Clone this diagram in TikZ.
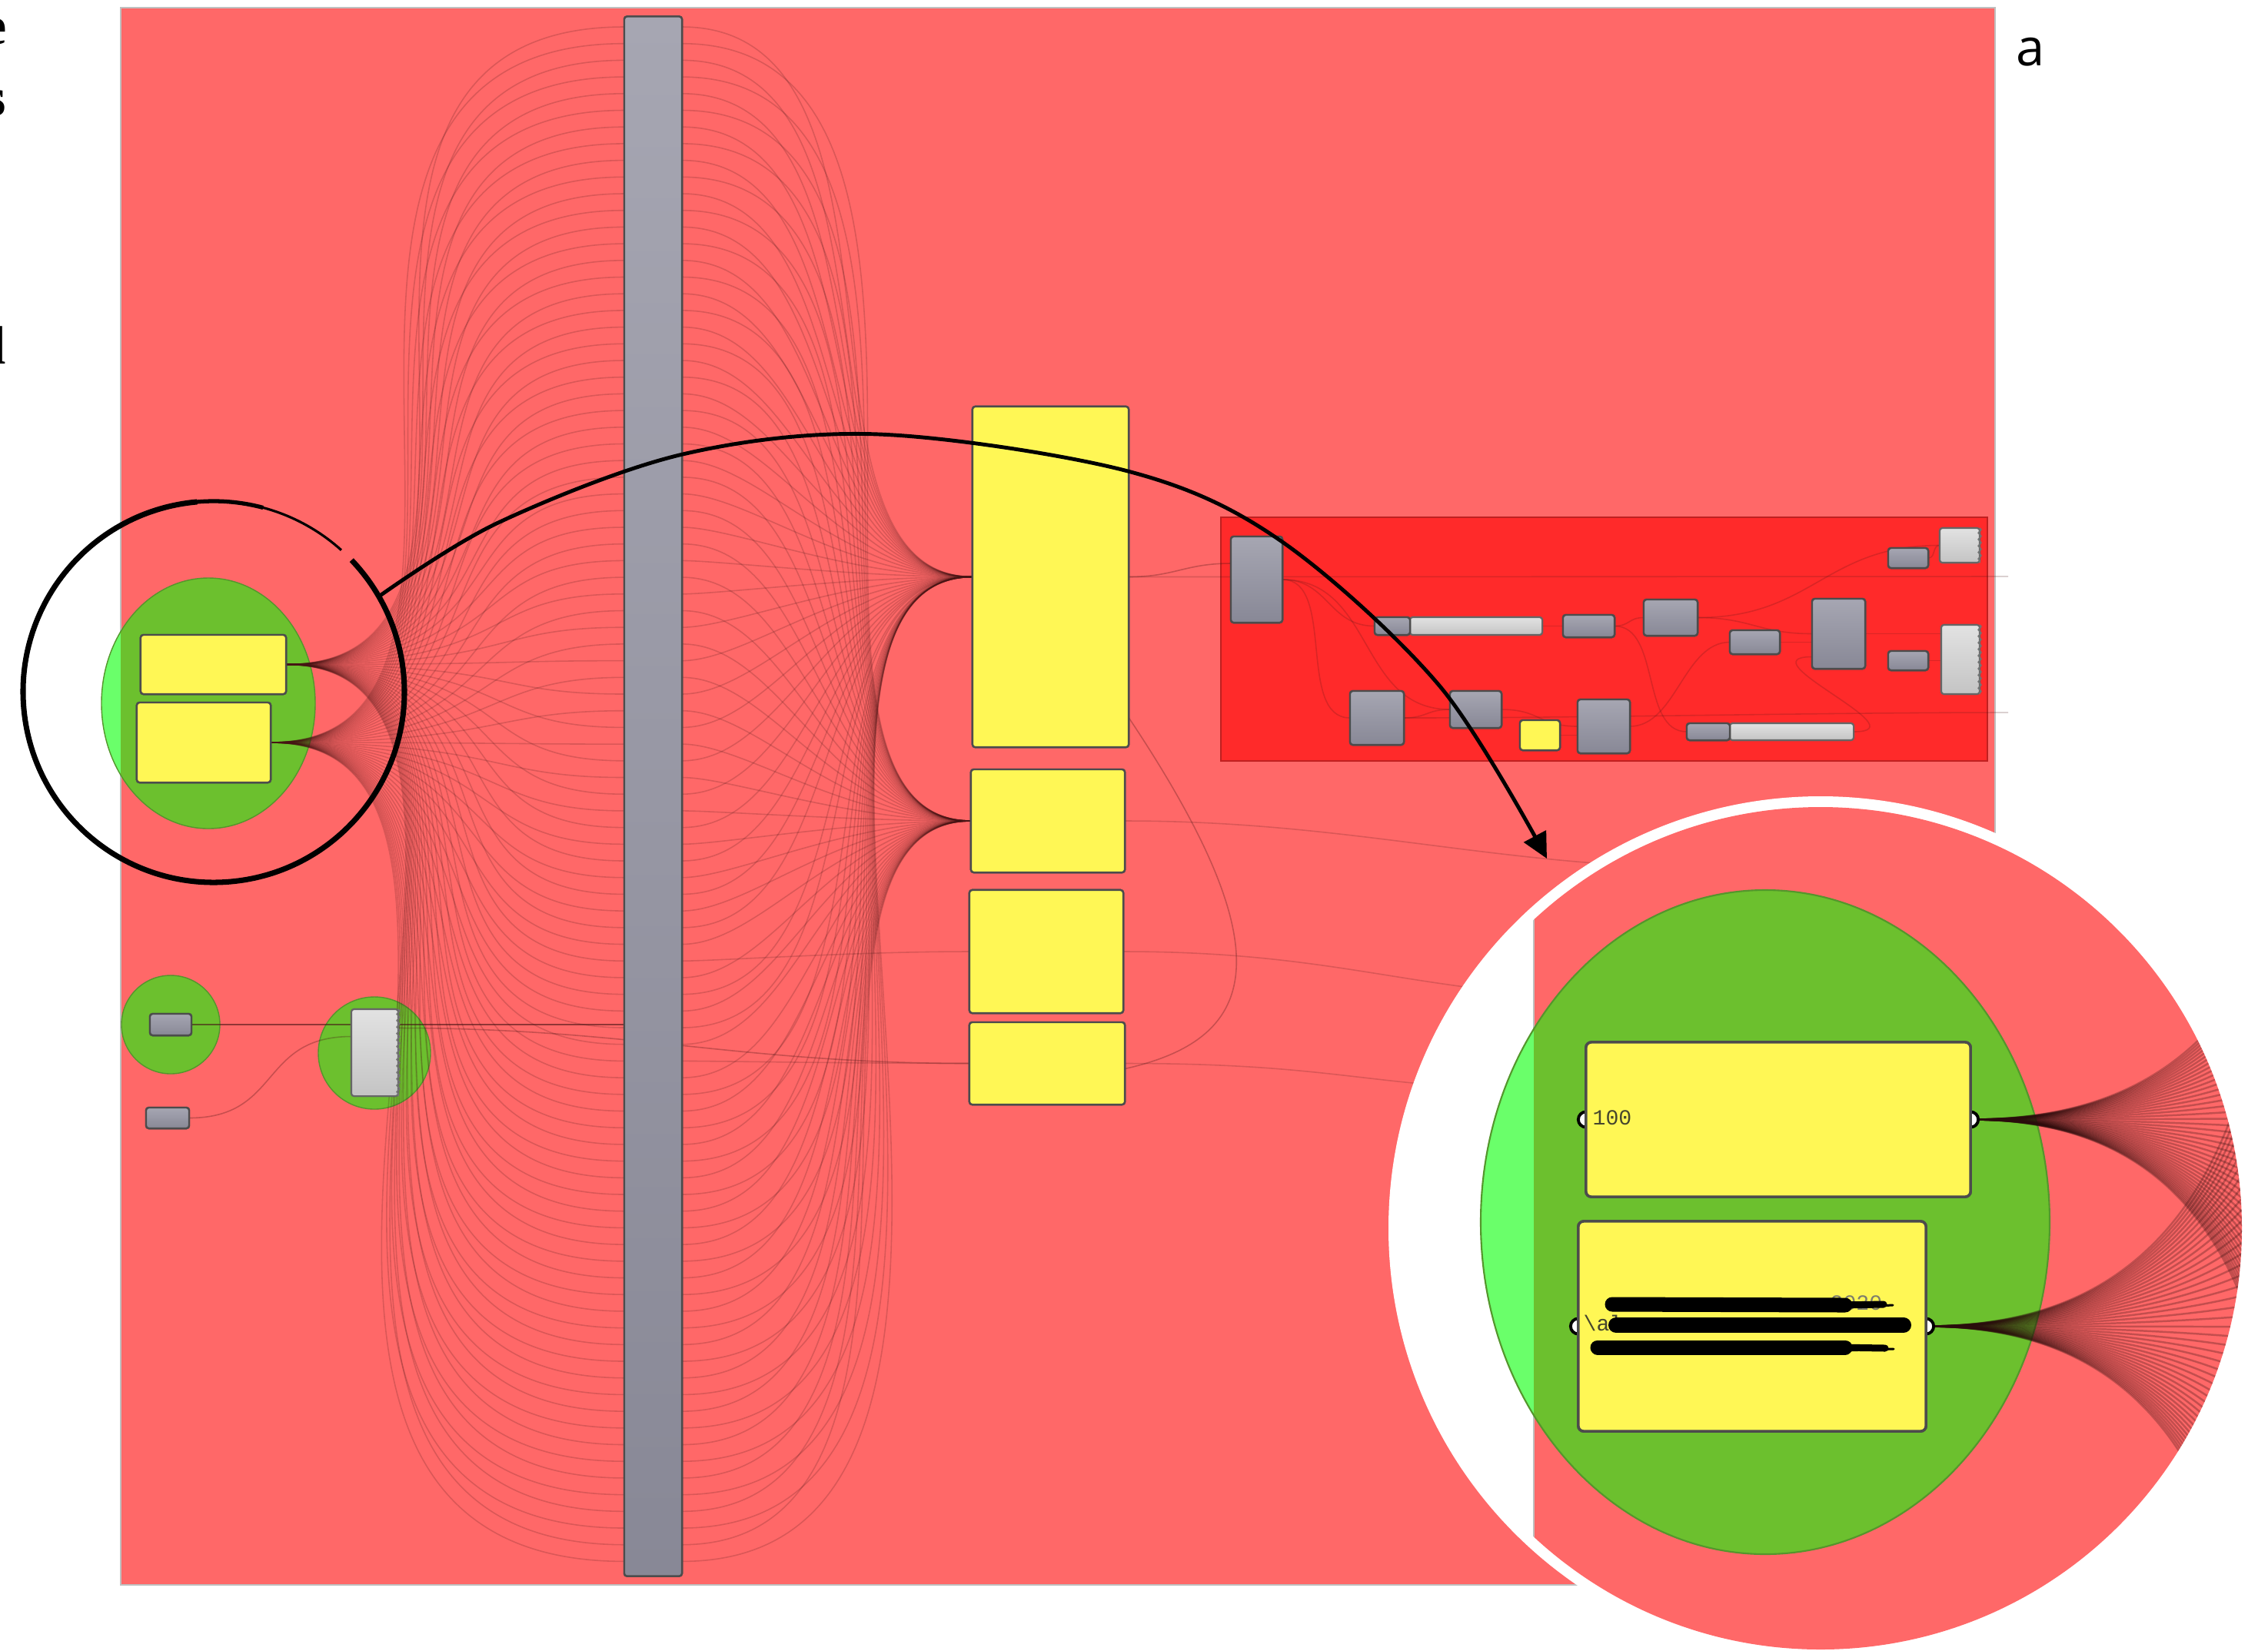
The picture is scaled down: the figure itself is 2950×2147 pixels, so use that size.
\documentclass[tikz,border=0pt]{standalone}
\usepackage{fontspec}
\usepackage{tikz}
\usetikzlibrary{calc,arrows.meta,positioning,decorations.pathmorphing}
\newfontfamily\tagfont{Open Sans}
\newfontfamily\capfont{Liberation Serif}
\newfontfamily\monofont{Liberation Mono}

\definecolor{canvasPink}{RGB}{255,104,104}
\definecolor{groupGreen}{RGB}{108,192,46}
\definecolor{groupGreenLight}{RGB}{106,255,106}
\definecolor{groupGreenEdge}{RGB}{84,150,44}
\definecolor{groupRed}{RGB}{255,42,42}
\definecolor{panelYellow}{RGB}{255,247,85}
\definecolor{compTop}{RGB}{166,166,178}
\definecolor{compBot}{RGB}{136,136,150}
\definecolor{lightTop}{RGB}{226,226,226}
\definecolor{lightBot}{RGB}{196,196,196}
\definecolor{wireDark}{RGB}{70,20,20}
\definecolor{panelText}{RGB}{70,70,45}

\tikzset{
  sz/.style 2 args={minimum width=#1cm, minimum height=#2cm},
  ghcomp/.style={draw=black!70, line width=0.7pt, rounded corners=1pt, top color=compTop, bottom color=compBot, inner sep=0pt, outer sep=0pt},
  ghlight/.style={draw=black!60, line width=0.6pt, rounded corners=1pt, top color=lightTop, bottom color=lightBot, inner sep=0pt, outer sep=0pt},
  ghpanel/.style={draw=black!70, line width=0.7pt, rounded corners=1pt, fill=panelYellow, inner sep=0pt, outer sep=0pt},
  zigedge/.style={draw=black!55, line width=0.5pt, decorate, decoration={zigzag, amplitude=0.5pt, segment length=2.4pt}},
  wire/.style={draw=wireDark, line width=0.45pt, opacity=0.2},
  magwire/.style={draw=wireDark!60!black, line width=0.7pt, opacity=0.28},
  port/.style={draw=black, fill=white, line width=1.1pt},
  greenedge/.style={draw=groupGreenEdge, line width=0.4pt},
  lensline/.style={draw=black, line width=2pt},
  loupe/.style={draw=black, line width=1.4pt},
  scribble/.style={draw=black, line width=#1, line cap=round},
  cutletter/.style={anchor=base east, inner sep=0pt, font=\capfont\bfseries\fontsize{20}{20}\selectfont},
  tagtext/.style={anchor=base west, inner sep=0pt, font=\tagfont\fontsize{19}{19}\selectfont},
  monotext/.style={anchor=base west, inner sep=0pt, text=panelText, font=\monofont\fontsize{8}{8}\selectfont}
}

\begin{document}
\begin{tikzpicture}[x=0.01cm, y=-0.01cm]
  \fill[white] (0,0) rectangle (2950,2147);
  \useasboundingbox (0,0) rectangle (2950,2147);

  % letters cut by the left edge, panel tag
  \node[cutletter] (cute) at (9,57) {e};
  \node[cutletter] (cuts) at (9,150) {s};
  \node[cutletter] (cutl) at (9,473) {l};
  \node[tagtext] (taga) at (2622,85) {a};

  % canvas
  \fill[canvasPink] (157,10) rectangle (2595,2062);
  \draw[black!25, line width=0.6pt] (157,10) rectangle (2595,2062);

  % groups
  \coordinate (grpc) at (271,915);
  \fill[groupGreenLight] (grpc) ellipse[x radius=139, y radius=163];
  \begin{scope}
    \clip (157,10) rectangle (2595,2062);
    \fill[groupGreen] (grpc) ellipse[x radius=139, y radius=163];
  \end{scope}
  \draw[greenedge] (grpc) ellipse[x radius=139, y radius=163];
  \fill[groupGreen] (222,1333) circle[radius=64];
  \draw[greenedge] (222,1333) circle[radius=64];
  \fill[groupGreen] (487,1370) circle[radius=73];
  \draw[greenedge] (487,1370) circle[radius=73];
  \draw[fill=groupRed, draw=groupRed!75!black, line width=0.5pt] (1588,673) rectangle (2585,990);

  % components (nodes first, drawn again on top below)
  \node[ghcomp, sz={0.75}{20.28}] (bar) at (849.5,1036) {};
  \node[ghpanel, sz={1.89}{0.77}] (srcA) at (277.5,864.5) {};
  \node[ghpanel, sz={1.74}{1.04}] (srcB) at (265,966) {};
  \node[ghpanel, sz={2.03}{4.43}] (pnA) at (1366.5,750.5) {};
  \node[ghpanel, sz={2.00}{1.34}] (pnB) at (1363,1068) {};
  \node[ghpanel, sz={2.00}{1.60}] (pnC) at (1361,1238) {};
  \node[ghpanel, sz={2.02}{1.07}] (pnD) at (1362,1383.5) {};
  \node[ghcomp, sz={0.54}{0.28}] (sm1) at (222,1333) {};
  \node[ghcomp, sz={0.56}{0.27}] (sm2) at (218,1454.5) {};
  \node[ghlight, sz={0.61}{1.13}] (tall) at (487.5,1369.5) {};

  \node[ghcomp, sz={0.67}{1.12}] (rg1) at (1634.5,754) {};
  \node[ghlight, sz={1.72}{0.23}] (rg2t) at (1920,814.5) {};
  \node[ghcomp, sz={0.46}{0.23}] (rg2) at (1811,814.5) {};
  \node[ghcomp, sz={0.67}{0.29}] (rg3) at (2066.5,814.5) {};
  \node[ghcomp, sz={0.70}{0.47}] (rg4) at (2173,803.5) {};
  \node[ghcomp, sz={0.65}{0.31}] (rg5) at (2282.5,835.5) {};
  \node[ghcomp, sz={0.69}{0.91}] (rg6) at (2391.5,824.5) {};
  \node[ghcomp, sz={0.52}{0.26}] (rg7) at (2482,726) {};
  \node[ghlight, sz={0.52}{0.45}] (rg8) at (2549,709.5) {};
  \node[ghcomp, sz={0.52}{0.25}] (rg9) at (2482,859.5) {};
  \node[ghlight, sz={0.50}{0.90}] (rg10) at (2550,858) {};
  \node[ghcomp, sz={0.70}{0.70}] (rg11) at (1791,934) {};
  \node[ghcomp, sz={0.67}{0.48}] (rg12) at (1919.5,923) {};
  \node[ghpanel, sz={0.52}{0.39}] (rg13) at (2003,956.5) {};
  \node[ghcomp, sz={0.68}{0.70}] (rg14) at (2086,945) {};
  \node[ghlight, sz={1.61}{0.22}] (rg15t) at (2330.5,952) {};
  \node[ghcomp, sz={0.56}{0.22}] (rg15) at (2222,952) {};

  % wires from the two inputs into the bar
  \foreach \i in {0,...,92}{
    \pgfmathsetmacro\yy{35+21.7*\i}
    \ifodd\i \def\src{srcB}\def\sy{966}\else\def\src{srcA}\def\sy{864.5}\fi
    \pgfmathsetmacro\ca{300+0.1*abs(\yy-\sy)}
    \pgfmathsetmacro\cb{160+0.42*abs(\yy-\sy)}
    \draw[wire] (\src.east) .. controls +(\ca,0) and +(-\cb,0) .. (bar.west |- 0,\yy);
  }
  % wires from the bar into the panels
  \foreach \i in {0,...,92}{
    \pgfmathsetmacro\yy{35+21.7*\i}
    \ifodd\i \def\tgt{pnB}\def\ty{1068}\else\def\tgt{pnA}\def\ty{750.5}\fi
    \ifnum\i=56 \def\tgt{pnC}\def\ty{1238}\fi
    \ifnum\i=62 \def\tgt{pnD}\def\ty{1383.5}\fi
    \pgfmathsetmacro\ca{40+0.4*abs(\yy-\ty)}
    \pgfmathsetmacro\cb{150+0.15*abs(\yy-\ty)}
    \draw[wire] (bar.east |- 0,\yy) .. controls +(\ca,0) and +(-\cb,0) .. (\tgt.west);
  }

  % loose wires
  \coordinate (offB) at (2250,1130);
  \coordinate (offC) at (2150,1300);
  \coordinate (offD) at (2080,1420);
  \coordinate (offR1) at (2612,750);
  \coordinate (offR2) at (2612,927);
  \draw[wire, opacity=0.6] (sm1.east) -- (bar.west |- sm1.east);
  \draw[wire, opacity=0.3] (sm2.east) .. controls +(120,0) and +(-120,0) .. ($(tall.west)+(0,-21)$);
  \draw[wire, opacity=0.3] ($(tall.east)+(0,-32)$) .. controls +(300,0) and +(-300,0) .. (pnD.west);
  \draw[wire, opacity=0.3] (pnA.east) .. controls +(60,0) and +(-60,0) .. ($(rg1.west)+(0,-21)$);
  \draw[wire] (pnA.east) -- (offR1);
  \draw[wire, opacity=0.3] ($(pnA.east)+(0,183)$) .. controls +(200,300) and +(180,-40) .. ($(pnD.east)+(0,7)$);
  \draw[wire] (pnB.east) .. controls +(300,0) and +(-300,0) .. (offB);
  \draw[wire] (pnC.east) .. controls +(300,0) and +(-300,0) .. (offC);
  \draw[wire] (pnD.east) .. controls +(300,0) and +(-300,0) .. (offD);

  % wires inside the red group
  \draw[wire] (rg1.east) .. controls +(60,0) and +(-60,0) .. (rg2.west);
  \draw[wire] (rg1.east) .. controls +(70,0) and +(-70,0) .. (rg11.west);
  \draw[wire] (rg1.east) .. controls +(120,0) and +(-120,0) .. (rg12.west);
  \draw[wire] (rg2t.east) -- (rg3.west);
  \draw[wire] (rg3.east) .. controls +(20,0) and +(-20,0) .. (rg4.west);
  \draw[wire] (rg3.east) .. controls +(60,0) and +(-60,0) .. (rg15.west);
  \draw[wire] (rg4.east) .. controls +(70,0) and +(-70,0) .. (rg6.west);
  \draw[wire] (rg4.east) .. controls +(150,0) and +(-150,0) .. (rg8.west);
  \draw[wire] (rg5.east) -- (rg6.west |- rg5.east);
  \draw[wire] (rg6.east) -- (rg10.west |- rg6.east);
  \draw[wire] (rg7.east) .. controls +(10,0) and +(-10,0) .. (rg8.west);
  \draw[wire] (rg9.east) -- (rg10.west |- rg9.east);
  \draw[wire] (rg11.east) .. controls +(30,0) and +(-30,0) .. (rg12.west);
  \draw[wire] (rg11.east) .. controls +(250,0) and +(-250,0) .. (offR2);
  \draw[wire] (rg12.east) .. controls +(50,0) and +(-50,0) .. (rg14.west);
  \draw[wire] (rg13.east) -- (rg14.west |- rg13.east);
  \draw[wire] (rg14.east) .. controls +(60,0) and +(-60,0) .. (rg5.west);
  \draw[wire] (rg15t.east) .. controls +(90,0) and +(-90,0) .. ($(rg6.west)+(0,30)$);

  % components on top of the wires
  \node[ghcomp, sz={0.75}{20.28}] at (bar) {};
  \foreach \n/\w/\h in {srcA/1.89/0.77, srcB/1.74/1.04, pnA/2.03/4.43, pnB/2.00/1.34, pnC/2.00/1.60, pnD/2.02/1.07, rg13/0.52/0.39}
    \node[ghpanel, sz={\w}{\h}] at (\n) {};
  \foreach \n/\w/\h in {sm1/0.54/0.28, sm2/0.56/0.27, rg1/0.67/1.12, rg3/0.67/0.29, rg4/0.70/0.47, rg5/0.65/0.31, rg6/0.69/0.91, rg7/0.52/0.26, rg9/0.52/0.25, rg11/0.70/0.70, rg12/0.67/0.48, rg14/0.68/0.70}
    \node[ghcomp, sz={\w}{\h}] at (\n) {};
  \foreach \n/\w/\h in {tall/0.61/1.13, rg2t/1.72/0.23, rg8/0.52/0.45, rg10/0.50/0.90, rg15t/1.61/0.22}
    \node[ghlight, sz={\w}{\h}] at (\n) {};
  \node[ghcomp, sz={0.46}{0.23}] at (rg2) {};
  \node[ghcomp, sz={0.56}{0.22}] at (rg15) {};
  \foreach \n in {tall, rg8, rg10}
    \draw[zigedge] (\n.north east) -- (\n.south east);

  % magnified view
  \coordinate (magc) at (2368,1598);
  \fill[white] (magc) circle[radius=562];
  \begin{scope}
    \clip (magc) circle[radius=548];
    \fill[canvasPink] (1995,1000) rectangle (2950,2200);
    \draw[black!25, line width=0.8pt] (1995,1000) -- (1995,2200);
    \coordinate (magg) at (2296,1590);
    \fill[groupGreenLight] (magg) ellipse[x radius=370, y radius=432];
    \begin{scope}
      \clip (1995,1000) rectangle (2950,2200);
      \fill[groupGreen] (magg) ellipse[x radius=370, y radius=432];
    \end{scope}
    \draw[greenedge, line width=0.6pt] (magg) ellipse[x radius=370, y radius=432];

    \node[ghpanel, line width=1pt, rounded corners=2pt, sz={5.00}{2.01}] (magA) at (2313,1456.5) {};
    \node[ghpanel, line width=1pt, rounded corners=2pt, sz={4.52}{2.73}] (magB) at (2279,1725.5) {};

    \foreach \i in {0,...,92}{
      \pgfmathsetmacro\yy{35+21.7*\i}
      \ifodd\i \def\src{magB}\def\sy{966}\else\def\src{magA}\def\sy{864.5}\fi
      \pgfmathsetmacro\ca{2.66*(300+0.1*abs(\yy-\sy))}
      \pgfmathsetmacro\cb{2.66*(160+0.42*abs(\yy-\sy))}
      \pgfmathsetmacro\my{-843.9+2.66*\yy}
      \coordinate (magport) at (3735,\my);
      \draw[magwire] (\src.east) .. controls +(\ca,0) and +(-\cb,0) .. (magport);
    }
    \foreach \p in {magA.west, magA.east, magB.west, magB.east}
      \draw[port] (\p) circle[radius=10];
    \node[ghpanel, line width=1pt, rounded corners=2pt, sz={5.00}{2.01}] at (magA) {};
    \node[ghpanel, line width=1pt, rounded corners=2pt, sz={4.52}{2.73}] at (magB) {};

    \node[monotext] (txt100) at (2071,1463) {100};
    \node[monotext] (txtAl) at (2059,1731) {\textbackslash al};
    \node[monotext, text=panelText!70] (txtYear) at (2380,1704) {2020};
    % redaction strokes
    \draw[scribble=0.19cm] (2097,1697) -- (2400,1698);
    \draw[scribble=0.09cm] (2390,1698) -- (2450,1697);
    \draw[scribble=0.03cm] (2400,1701) -- (2462,1698);
    \draw[scribble=0.2cm] (2102,1724) -- (2476,1724);
    \draw[scribble=0.19cm] (2078,1753) -- (2400,1753);
    \draw[scribble=0.09cm] (2390,1753) -- (2452,1754);
    \draw[scribble=0.03cm] (2400,1757) -- (2463,1755);
  \end{scope}

  % loupe on the input group and arrow to the magnified view
  \coordinate (lensc) at (278,900);
  \coordinate (lensout) at ($(lensc)+(-30:248)$);
  \coordinate (arrowtip) at (2012,1117);
  \draw[lensline] ($(lensc)+(-95:248)$) arc[start angle=-95, end angle=-403.7, radius=248];
  \draw[black, line width=1.5pt] ($(lensc)+(-75:248)$) arc[start angle=-75, end angle=-96, radius=248];
  \draw[black, line width=0.9pt] ($(lensc)+(-48:248)$) arc[start angle=-48, end angle=-76, radius=248];
  \draw[loupe, -{Triangle[length=0.33cm, width=0.32cm]}] plot[smooth, tension=0.55] coordinates {(lensout) (648,680) (888,591) (1143,565) (1467,613) (1665,703) (1873,893) (arrowtip)};
\end{tikzpicture}
\end{document}
